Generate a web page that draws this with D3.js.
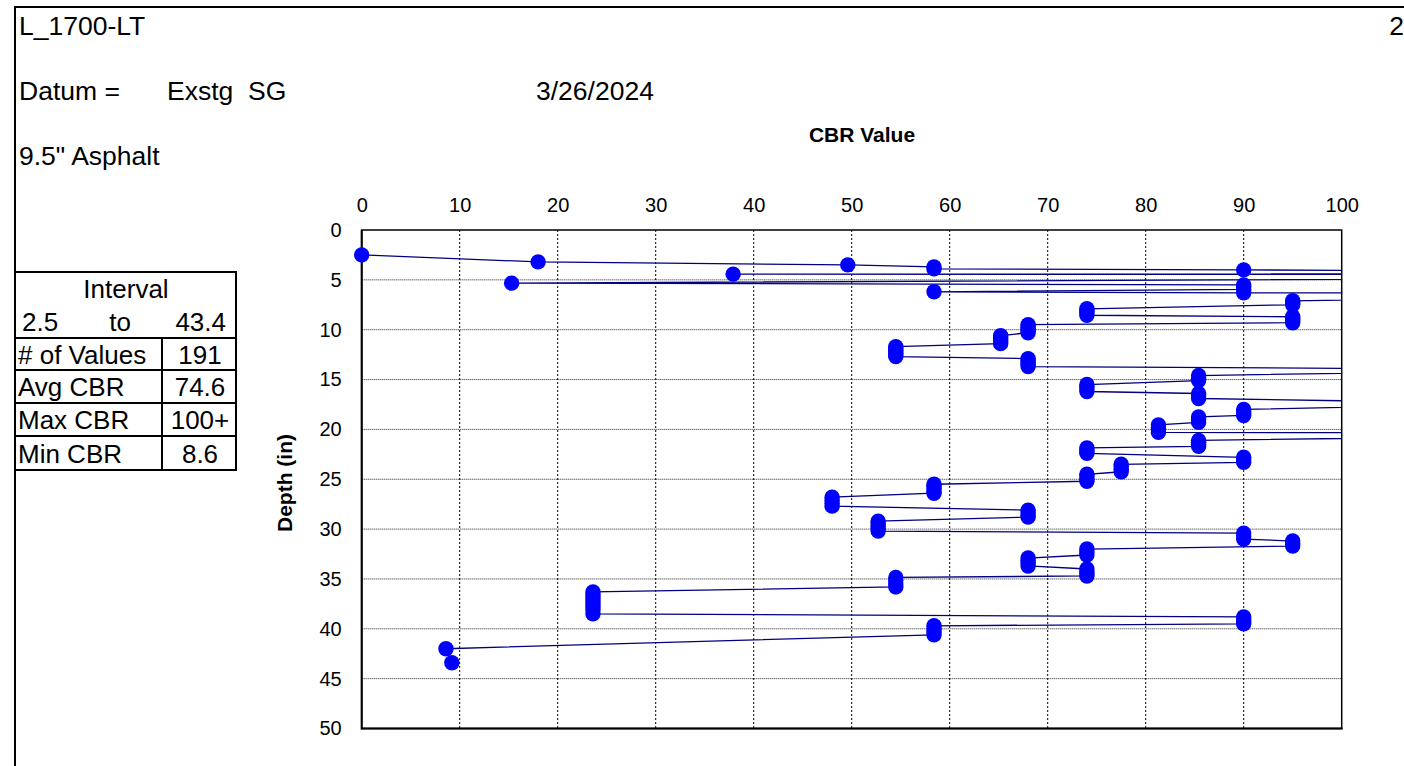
<!DOCTYPE html>
<html>
<head>
<meta charset="utf-8">
<script src="https://cdn.jsdelivr.net/npm/d3@7"></script>
<style>
  html, body { margin: 0; padding: 0; background: #fff; }
  svg { display: block; font-family: "Liberation Sans", Arial, sans-serif; }
</style>
</head>
<body>
<svg id="chart" width="1404" height="766"></svg>
<script>
// DCP sounding: depth below datum (in) and CBR for each blow
const depthIn = [
  2.5, 3.2, 3.5, 3.7, 3.9, 4.0, 4.38, 4.43, 4.47, 5.33,
  5.5, 5.7, 5.95, 6.2, 6.3, 6.35, 7.1, 7.3, 7.5, 7.9,
  8.1, 8.3, 8.55, 8.7, 8.9, 9.1, 9.3, 9.5, 9.7, 9.9,
  10.1, 10.3, 10.6, 10.8, 11.0, 11.2, 11.4, 11.7, 11.9, 12.1,
  12.3, 12.5, 12.7, 12.9, 13.1, 13.3, 13.5, 13.7, 14.0, 14.6,
  14.85, 15.1, 15.5, 15.7, 15.95, 16.2, 16.4, 16.6, 16.9, 17.4,
  18.0, 18.2, 18.4, 18.6, 18.75, 19.0, 19.3, 19.55, 19.8, 20.05,
  20.3, 20.4, 21.1, 21.3, 21.5, 21.7, 21.85, 22.05, 22.25, 22.4,
  22.8, 23.05, 23.3, 23.5, 23.75, 24.0, 24.25, 24.5, 24.75, 25.0,
  25.2, 25.5, 25.7, 25.95, 26.2, 26.4, 26.8, 27.1, 27.4, 27.7,
  28.1, 28.35, 28.6, 28.8, 29.2, 29.45, 29.7, 29.95, 30.2, 30.4,
  30.7, 31.0, 31.2, 31.45, 31.7, 32.0, 32.3, 32.6, 32.9, 33.15,
  33.4, 33.7, 34.0, 34.25, 34.5, 34.7, 34.85, 35.15, 35.5, 35.8,
  36.3, 36.6, 36.9, 37.2, 37.5, 37.8, 38.1, 38.5, 38.8, 39.05,
  39.3, 39.5, 39.7, 40.0, 40.3, 40.6, 42.0, 43.4
];
const cbrValue = [
  0, 18.0, 49.6, 58.4, 58.4, 90, 180, 37.9, 207, 15.3,
  90, 90, 90, 58.4, 90, 158, 95, 95, 95, 74,
  74, 74, 74, 95, 95, 95, 95, 68, 68, 68,
  68, 68, 65.2, 65.2, 65.2, 65.2, 65.2, 54.5, 54.5, 54.5,
  54.5, 54.5, 54.5, 68, 68, 68, 68, 68, 124, 85.4,
  85.4, 85.4, 74, 74, 74, 74, 85.4, 85.4, 85.4, 118,
  90, 90, 90, 90, 85.4, 85.4, 85.4, 81.3, 81.3, 81.3,
  81.3, 140, 85.4, 85.4, 85.4, 85.4, 74, 74, 74, 74,
  90, 90, 90, 77.5, 77.5, 77.5, 77.5, 74, 74, 74,
  74, 58.4, 58.4, 58.4, 58.4, 58.4, 48.0, 48.0, 48.0, 48.0,
  68, 68, 68, 68, 52.7, 52.7, 52.7, 52.7, 52.7, 90,
  90, 90, 95, 95, 95, 74, 74, 74, 68, 68,
  68, 68, 74, 74, 74, 74, 54.5, 54.5, 54.5, 54.5,
  23.6, 23.6, 23.6, 23.6, 23.6, 23.6, 23.6, 23.6, 90, 90,
  90, 90, 58.4, 58.4, 58.4, 58.4, 8.6, 9.2
];

const xTicks = [0, 10, 20, 30, 40, 50, 60, 70, 80, 90, 100];
const yTicks = [0, 5, 10, 15, 20, 25, 30, 35, 40, 45, 50];

const headerTitle = "L_1700-LT";
const pageNo = "2";
const datumLabel = "Datum =";
const datumValue = "Exstg  SG";
const testDate = "3/26/2024";
const sectionNote = "9.5\" Asphalt";

const summaryLabels = ["# of Values", "Avg CBR", "Max CBR", "Min CBR"];
const summaryValues = ["191", "74.6", "100+", "8.6"];
const intervalFrom = "2.5";
const intervalTo = "43.4";

const svg = d3.select("#chart");
const FONT = "\"Liberation Sans\", Arial, sans-serif";

// page frame
svg.append("line").attr("x1", 14).attr("x2", 1404).attr("y1", 7).attr("y2", 7)
  .attr("stroke", "#000").attr("stroke-width", 2);
svg.append("line").attr("x1", 15).attr("x2", 15).attr("y1", 6).attr("y2", 766)
  .attr("stroke", "#000").attr("stroke-width", 2);

// header text
const head = svg.append("g").attr("font-size", 26.5).attr("fill", "#000");
head.append("text").attr("x", 19).attr("y", 35).text(headerTitle);
head.append("text").attr("x", 1404).attr("y", 35).attr("text-anchor", "end").text(pageNo);
head.append("text").attr("x", 19).attr("y", 100).text(datumLabel);
head.append("text").attr("x", 167).attr("y", 100).attr("xml:space", "preserve")
  .style("white-space", "pre").text(datumValue);
head.append("text").attr("x", 536).attr("y", 100).text(testDate);
head.append("text").attr("x", 19).attr("y", 165).text(sectionNote);

// summary table
const tbl = svg.append("g");
const tLeft = 15, tMid = 162, tRight = 236;
const rowEdges = [272, 338, 370, 403, 436, 470];
const tStroke = (x1, y1, x2, y2) => tbl.append("line")
  .attr("x1", x1).attr("y1", y1).attr("x2", x2).attr("y2", y2)
  .attr("stroke", "#000").attr("stroke-width", 2);
tStroke(tLeft, rowEdges[0], tRight + 1, rowEdges[0]);
rowEdges.slice(1).forEach(y => tStroke(tLeft, y, tRight + 1, y));
tStroke(tRight, rowEdges[0] - 1, tRight, rowEdges[5] + 1);
tStroke(tMid, rowEdges[1], tMid, rowEdges[5]);

const tt = tbl.append("g").attr("font-size", 26).attr("fill", "#000");
tt.append("text").attr("x", 126).attr("y", 298).attr("text-anchor", "middle").text("Interval");
tt.append("text").attr("x", 22).attr("y", 331).text(intervalFrom);
tt.append("text").attr("x", 120).attr("y", 331).attr("text-anchor", "middle").text("to");
tt.append("text").attr("x", 226).attr("y", 331).attr("text-anchor", "end").text(intervalTo);
summaryLabels.forEach((lab, i) => {
  const yb = (rowEdges[i + 1] + rowEdges[i + 2]) / 2 + 9.5;
  tt.append("text").attr("x", 18).attr("y", yb).text(lab);
  tt.append("text").attr("x", (tMid + tRight) / 2 + 1).attr("y", yb)
    .attr("text-anchor", "middle").text(summaryValues[i]);
});

// plot area
const plot = { left: 361.7, right: 1341.7, top: 230, bottom: 728.5 };
const x = d3.scaleLinear().domain([0, 100]).range([plot.left, plot.right]);
const y = d3.scaleLinear().domain([0, 50]).range([plot.top, plot.bottom]);

svg.append("defs").append("clipPath").attr("id", "plotClip")
  .append("rect").attr("x", plot.left).attr("y", plot.top)
  .attr("width", plot.right - plot.left).attr("height", plot.bottom - plot.top);

// gridlines
const grid = svg.append("g");
grid.selectAll("line.vx").data(xTicks.slice(1, -1)).join("line")
  .attr("class", "vx")
  .attr("x1", d => x(d)).attr("x2", d => x(d))
  .attr("y1", plot.top).attr("y2", plot.bottom)
  .attr("stroke", "#000").attr("stroke-width", 1).attr("stroke-dasharray", "2,2");
grid.selectAll("line.hy").data(yTicks.slice(1, -1)).join("line")
  .attr("class", "hy")
  .attr("x1", plot.left).attr("x2", plot.right)
  .attr("y1", d => y(d)).attr("y2", d => y(d))
  .attr("stroke", "#222").attr("stroke-width", 1).attr("stroke-dasharray", "1,1");

// axes (labels only, frame drawn separately)
const xAxis = d3.axisTop(x).tickValues(xTicks).tickSize(0).tickPadding(18);
const gx = svg.append("g").attr("transform", `translate(0,${plot.top})`).call(xAxis);
gx.select(".domain").remove();
gx.selectAll("text").attr("font-size", 20).attr("font-family", FONT).attr("fill", "#000");

const yAxis = d3.axisLeft(y).tickValues(yTicks).tickSize(0).tickPadding(20);
const gy = svg.append("g").attr("transform", `translate(${plot.left},0)`).call(yAxis);
gy.select(".domain").remove();
gy.selectAll("text").attr("font-size", 20).attr("font-family", FONT).attr("fill", "#000");

// frame
svg.append("rect").attr("x", plot.left).attr("y", plot.top)
  .attr("width", plot.right - plot.left).attr("height", plot.bottom - plot.top)
  .attr("fill", "none").attr("stroke", "#000").attr("stroke-width", 1.5);
svg.append("line").attr("x1", plot.left).attr("x2", plot.left)
  .attr("y1", plot.top).attr("y2", plot.bottom + 1)
  .attr("stroke", "#000").attr("stroke-width", 2);
svg.append("line").attr("x1", plot.left).attr("x2", plot.right + 1)
  .attr("y1", plot.bottom).attr("y2", plot.bottom)
  .attr("stroke", "#000").attr("stroke-width", 2);

// axis titles
svg.append("text").attr("x", 862).attr("y", 142).attr("text-anchor", "middle")
  .attr("font-size", 21).attr("font-weight", "bold").text("CBR Value");
svg.append("text").attr("transform", "translate(292,483) rotate(-90)")
  .attr("text-anchor", "middle").attr("font-size", 21).attr("font-weight", "bold")
  .text("Depth (in)");

// series
const pts = depthIn.map((d, i) => ({ depth: d, cbr: cbrValue[i] }));
const line = d3.line().x(d => x(d.cbr)).y(d => y(d.depth));
svg.append("path").datum(pts)
  .attr("clip-path", "url(#plotClip)")
  .attr("d", line)
  .attr("fill", "none").attr("stroke", "#000080").attr("stroke-width", 1.3);

svg.append("g").selectAll("circle").data(pts.filter(p => p.cbr <= 100)).join("circle")
  .attr("cx", d => x(d.cbr)).attr("cy", d => y(d.depth)).attr("r", 7.7)
  .attr("fill", "#0000ff");
</script>
</body>
</html>
